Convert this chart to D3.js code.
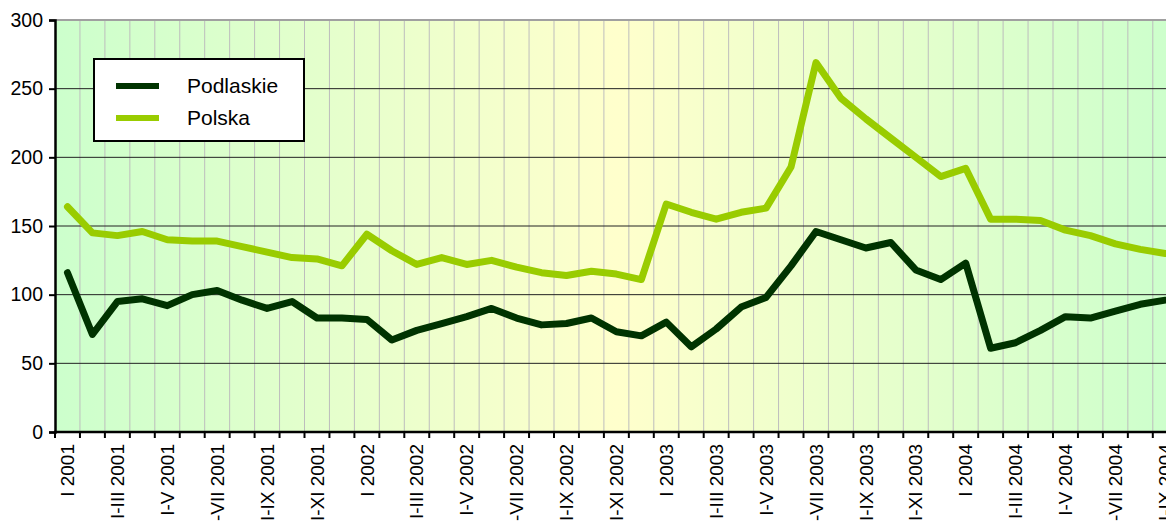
<!DOCTYPE html>
<html>
<head>
<meta charset="utf-8">
<script src="https://cdn.jsdelivr.net/npm/d3@7"></script>
<style>
  body { margin: 0; background: #fff; }
  svg { display: block; font-family: Arial, "Liberation Sans", sans-serif; }
</style>
</head>
<body>
<div id="chart"></div>
<script>
var categories = [
    'I 2001', 'I-II 2001', 'I-III 2001', 'I-IV 2001', 'I-V 2001', 'I-VI 2001',
    'I-VII 2001', 'I-VIII 2001', 'I-IX 2001', 'I-X 2001', 'I-XI 2001', 'I-XII 2001',
    'I 2002', 'I-II 2002', 'I-III 2002', 'I-IV 2002', 'I-V 2002', 'I-VI 2002',
    'I-VII 2002', 'I-VIII 2002', 'I-IX 2002', 'I-X 2002', 'I-XI 2002', 'I-XII 2002',
    'I 2003', 'I-II 2003', 'I-III 2003', 'I-IV 2003', 'I-V 2003', 'I-VI 2003',
    'I-VII 2003', 'I-VIII 2003', 'I-IX 2003', 'I-X 2003', 'I-XI 2003', 'I-XII 2003',
    'I 2004', 'I-II 2004', 'I-III 2004', 'I-IV 2004', 'I-V 2004', 'I-VI 2004',
    'I-VII 2004', 'I-VIII 2004', 'I-IX 2004'
];

var podlaskie = [
    116, 71, 95, 97, 92, 100, 103, 96, 90, 95, 83, 83,
    82, 67, 74, 79, 84, 90, 83, 78, 79, 83, 73, 70,
    80, 62, 75, 91, 98, 121, 146, 140, 134, 138, 118, 111,
    123, 61, 65, 74, 84, 83, 88, 93, 96
];

var polska = [
    164, 145, 143, 146, 140, 139, 139, 135, 131, 127, 126, 121,
    144, 132, 122, 127, 122, 125, 120, 116, 114, 117, 115, 111,
    166, 160, 155, 160, 163, 193, 269, 243, 228, 214, 200, 186,
    192, 155, 155, 154, 147, 143, 137, 133, 130
];

var yTicks = [0, 50, 100, 150, 200, 250, 300];

var seriesNames = ['Podlaskie', 'Polska'];
var seriesColors = ['#003300', '#99cc00'];

function drawChart() {
    var width = 1166, height = 522;
    var left = 55, top = 20, bottom = 432;
    var band = 24.95;

    var svg = d3.select('#chart')
        .append('svg')
        .attr('width', width)
        .attr('height', height);

    var x = d3.scaleBand()
        .domain(categories)
        .range([left, left + band * categories.length])
        .padding(0);
    var y = d3.scaleLinear().domain([0, 300]).range([bottom, top]);

    var plotRight = left + band * categories.length;

    // background gradient green -> yellow -> green
    var grad = svg.append('defs').append('linearGradient')
        .attr('id', 'bg')
        .attr('gradientUnits', 'userSpaceOnUse')
        .attr('x1', left).attr('x2', plotRight)
        .attr('y1', 0).attr('y2', 0);
    grad.append('stop').attr('offset', '0%').attr('stop-color', '#ccffcc');
    grad.append('stop').attr('offset', '50%').attr('stop-color', '#ffffcc');
    grad.append('stop').attr('offset', '100%').attr('stop-color', '#ccffcc');

    svg.append('rect')
        .attr('x', left).attr('y', top)
        .attr('width', plotRight - left).attr('height', bottom - top)
        .attr('fill', 'url(#bg)');

    // vertical grid
    svg.append('g')
        .selectAll('line')
        .data(categories.slice(1))
        .enter().append('line')
        .attr('x1', function (d) { return x(d); })
        .attr('x2', function (d) { return x(d); })
        .attr('y1', top).attr('y2', bottom)
        .attr('stroke', '#bdbdbd')
        .attr('stroke-width', 1);

    // horizontal grid
    svg.append('g')
        .selectAll('line')
        .data(yTicks.filter(function (d) { return d > 0 && d < 300; }))
        .enter().append('line')
        .attr('x1', left).attr('x2', plotRight)
        .attr('y1', function (d) { return y(d); })
        .attr('y2', function (d) { return y(d); })
        .attr('stroke', '#222')
        .attr('stroke-width', 1);

    svg.append('line')
        .attr('x1', left).attr('x2', plotRight)
        .attr('y1', y(300)).attr('y2', y(300))
        .attr('stroke', '#a0a0a0')
        .attr('stroke-width', 2);

    // lines
    var line = d3.line()
        .x(function (d, i) { return x(categories[i]) + x.bandwidth() / 2; })
        .y(function (d) { return y(d); });

    [podlaskie, polska].forEach(function (s, k) {
        svg.append('path')
            .datum(s)
            .attr('d', line)
            .attr('fill', 'none')
            .attr('stroke', seriesColors[k])
            .attr('stroke-width', 7)
            .attr('stroke-linejoin', 'round')
            .attr('stroke-linecap', 'round');
    });

    // Y axis
    var yAxis = svg.append('g')
        .attr('transform', 'translate(' + left + ',0)')
        .call(d3.axisLeft(y).tickValues(yTicks).tickSize(6).tickPadding(6));
    yAxis.select('.domain').attr('stroke', '#000').attr('stroke-width', 2.5);
    yAxis.selectAll('.tick line').attr('stroke', '#000').attr('stroke-width', 2);
    yAxis.selectAll('text')
        .attr('font-size', '19.5px')
        .attr('fill', '#000')
        .attr('font-family', 'Arial, "Liberation Sans", sans-serif');

    // X axis
    var xg = svg.append('g');
    xg.append('line')
        .attr('x1', left - 1).attr('x2', plotRight)
        .attr('y1', bottom).attr('y2', bottom)
        .attr('stroke', '#000').attr('stroke-width', 2.5);
    xg.selectAll('.xt')
        .data(categories)
        .enter().append('line')
        .attr('class', 'xt')
        .attr('x1', function (d) { return x(d); })
        .attr('x2', function (d) { return x(d); })
        .attr('y1', bottom).attr('y2', bottom + 6)
        .attr('stroke', '#000').attr('stroke-width', 2);
    xg.selectAll('text')
        .data(categories.filter(function (d, i) { return i % 2 === 0; }))
        .enter().append('text')
        .attr('transform', function (d) {
            return 'translate(' + (x(d) + x.bandwidth() / 2) + ',' + (bottom + 12) + ') rotate(-90)';
        })
        .attr('dy', '0.35em')
        .attr('text-anchor', 'end')
        .attr('font-size', '19px')
        .attr('fill', '#000')
        .text(function (d) { return d; });

    // legend
    var lg = svg.append('g');
    lg.append('rect')
        .attr('x', 94).attr('y', 59)
        .attr('width', 210).attr('height', 82)
        .attr('fill', '#fff')
        .attr('stroke', '#000')
        .attr('stroke-width', 2);
    seriesNames.forEach(function (n, k) {
        var ly = 86 + k * 32;
        lg.append('line')
            .attr('x1', 116).attr('x2', 159)
            .attr('y1', ly).attr('y2', ly)
            .attr('stroke', seriesColors[k])
            .attr('stroke-width', 6);
        lg.append('text')
            .attr('x', 187).attr('y', ly)
            .attr('dy', '0.35em')
            .attr('font-size', '21px')
            .attr('fill', '#000')
            .text(n);
    });
}

drawChart();
</script>
</body>
</html>
